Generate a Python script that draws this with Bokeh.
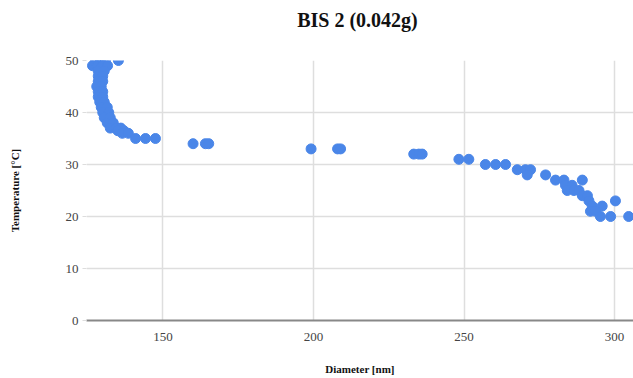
from bokeh.plotting import figure
from bokeh.models import FixedTicker, ColumnDataSource, Div
from bokeh.layouts import column
from bokeh.embed import file_html
from bokeh.resources import INLINE

# Diameter [nm] and Temperature [°C]
diameter = [
    127.6, 129.2, 130.9, 135.2,
    126.6, 128.2, 129.9, 131.6,
    128.5, 130.5,
    128.5, 130.0,
    128.5, 130.0,
    128.0, 129.5,
    128.5, 130.0,
    128.5, 130.0,
    129.0, 130.5,
    129.5, 131.5,
    130.0, 132.0,
    130.5, 132.5,
    131.5, 133.5,
    132.5, 134.5, 136.0,
    135.0, 137.0,
    136.5, 138.5,
    140.9, 144.2, 147.5,
    160.0, 164.1, 165.2,
    199.2, 208.0, 209.0,
    233.3, 235.0, 236.1,
    248.3, 251.6,
    257.1, 260.5, 263.8,
    267.7, 270.4, 272.1,
    271.0, 277.1,
    280.4, 283.2, 289.3,
    283.7, 285.9,
    284.3, 286.5, 288.2,
    289.3, 291.0,
    291.5, 300.3,
    292.6, 295.9,
    292.0, 293.7,
    295.3, 298.7, 304.7,
]
temperature = [
    50, 50, 50, 50,
    49, 49, 49, 49,
    48, 48,
    47, 47,
    46, 46,
    45, 45,
    44, 44,
    43, 43,
    42, 42,
    41, 41,
    40, 40,
    39, 39,
    38, 38,
    37, 37, 37,
    36.5, 36.5,
    36, 36,
    35, 35, 35,
    34, 34, 34,
    33, 33, 33,
    32, 32, 32,
    31, 31,
    30, 30, 30,
    29, 29, 29,
    28, 28,
    27, 27, 27,
    26, 26,
    25, 25, 25,
    24, 24,
    23, 23,
    22, 22,
    21, 21,
    20, 20, 20,
]
x_ticks = [150, 200, 250, 300]
y_ticks = [0, 10, 20, 30, 40, 50]
title_text = "BIS 2 (0.042g)"

src = ColumnDataSource(data=dict(x=diameter, y=temperature))

FONT = "Times New Roman"

header = Div(
    text=('<div style="width:633px;height:40px;box-sizing:border-box;padding-left:82px;'
          'text-align:center;font-family:\'Times New Roman\',\'Liberation Serif\',serif;'
          'font-weight:bold;font-size:20px;line-height:40px;color:#111111">'
          + title_text + '</div>'),
    width=633, height=40, margin=0)

p = figure(width=633, height=338, output_backend="svg", toolbar_location=None,
           x_range=(124.6, 306.3), y_range=(0, 50),
           min_border_left=86, min_border_right=0, min_border_top=20, min_border_bottom=58,
           margin=0)
p.outline_line_color = None
p.background_fill_color = "white"
p.border_fill_color = "white"

p.scatter("x", "y", source=src, size=10, fill_color="#4a86e8", line_color="#4a86e8")

p.xaxis.ticker = FixedTicker(ticks=x_ticks)
p.yaxis.ticker = FixedTicker(ticks=y_ticks)
p.xgrid.ticker = FixedTicker(ticks=x_ticks)
p.ygrid.ticker = FixedTicker(ticks=y_ticks[1:])
p.xgrid.grid_line_color = "#dedede"
p.ygrid.grid_line_color = "#dedede"
p.xgrid.grid_line_width = 1.5
p.ygrid.grid_line_width = 1.5

p.axis.major_label_text_font = FONT
p.axis.major_label_text_font_size = "13px"
p.axis.major_label_text_color = "#444444"
p.axis.axis_label_text_font = FONT
p.axis.axis_label_text_font_size = "11px"
p.axis.axis_label_text_font_style = "bold"
p.axis.axis_label_text_color = "#111111"
p.axis.minor_tick_line_color = None

p.xaxis.axis_label = "Diameter [nm]"
p.xaxis.axis_line_color = "#888888"
p.xaxis.axis_line_width = 2
p.xaxis.major_tick_line_color = None
p.xaxis.major_label_standoff = 6
p.xaxis.axis_label_standoff = 19

p.yaxis.axis_label = "Temperature [°C]"
p.yaxis.axis_line_color = None
p.yaxis.major_tick_line_color = "#dddddd"
p.yaxis.major_tick_in = 0
p.yaxis.major_tick_out = 4
p.yaxis.major_label_standoff = 4
p.yaxis.axis_label_standoff = 42

layout = column(header, p, spacing=0, margin=0)

open("out.html", "w").write(file_html(layout, INLINE))
